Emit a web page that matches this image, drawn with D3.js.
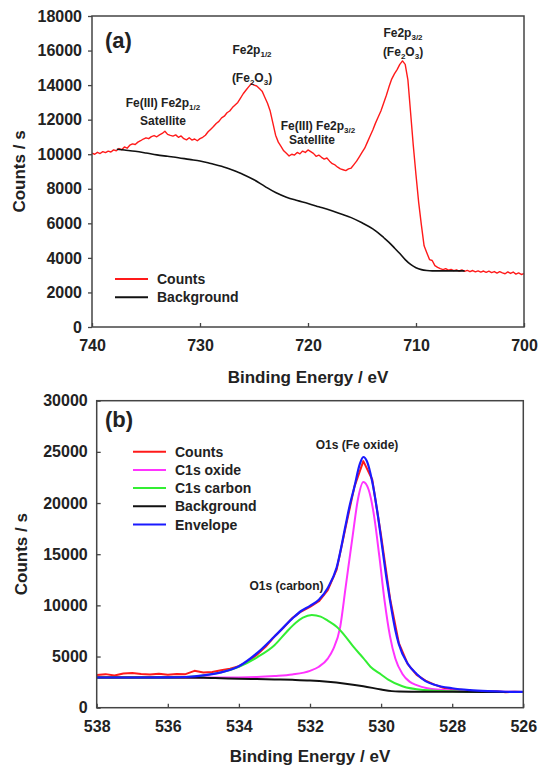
<!DOCTYPE html>
<html><head><meta charset="utf-8">
<script src="https://cdn.jsdelivr.net/npm/d3@7"></script>
<style>
body{margin:0;background:#fff;}
svg{display:block;font-family:"Liberation Sans",Arial,sans-serif;}
</style></head>
<body>
<svg id="c" width="539" height="765"></svg>
<script>
// ---------- Panel (a) data : Fe 2p ----------
const aXTicks = [740, 730, 720, 710, 700];
const aYTicks = [0, 2000, 4000, 6000, 8000, 10000, 12000, 14000, 16000, 18000];
const aCounts = [
[740,10060],[739.75,10000],[739.5,10110],[739.25,10040],[739,10150],[738.75,10090],[738.5,10180],[738.25,10130],
[738,10250],[737.75,10200],[737.5,10330],[737.25,10260],[737,10420],[736.75,10350],[736.5,10520],[736.25,10600],
[736,10560],[735.75,10700],[735.5,10780],[735.25,10880],[735,10950],[734.75,10900],[734.5,11020],[734.25,11080],
[734,11010],[733.75,11120],[733.5,11200],[733.25,11330],[733,11150],[732.75,11090],[732.5,11050],[732.25,11120],
[732,10980],[731.75,11060],[731.5,10900],[731.25,10830],[731,10950],[730.75,10820],[730.5,10880],[730.25,10780],
[730,10900],[729.75,10980],[729.5,11100],[729.25,11300],[729,11450],[728.75,11600],[728.5,11780],[728.25,11900],
[728,12100],[727.75,12200],[727.5,12400],[727.25,12500],[727,12700],[726.75,12850],[726.5,13000],[726.25,13250],
[726,13500],[725.75,13700],[725.5,13900],[725.25,14080],[725,14000],[724.75,13950],[724.5,13800],[724.25,13650],
[724,13300],[723.75,12950],[723.5,12500],[723.25,11800],[723,11100],[722.75,10700],[722.5,10450],[722.25,10200],
[722,10050],[721.75,9900],[721.5,10000],[721.25,9950],[721,10100],[720.75,10020],[720.5,10180],[720.25,10100],
[720,10250],[719.75,10150],[719.5,10050],[719.25,9880],[719,9950],[718.75,9820],[718.5,9720],[718.25,9780],
[718,9600],[717.75,9450],[717.5,9380],[717.25,9250],[717,9150],[716.75,9100],[716.5,9050],[716.25,9150],
[716,9200],[715.75,9400],[715.5,9600],[715.25,9850],[715,10100],[714.75,10350],[714.5,10700],[714.25,11050],
[714,11400],[713.75,11800],[713.5,12150],[713.25,12500],[713,12950],[712.75,13400],[712.5,13900],[712.25,14350],
[712,14650],[711.75,14900],[711.5,15200],[711.25,15400],[711,15200],[710.75,14300],[710.5,12400],[710.25,10500],
[710,8800],[709.75,7200],[709.5,5900],[709.25,4700],[709,4300],[708.75,3900],[708.5,3850],[708.25,3550],
[708,3450],[707.75,3380],[707.5,3320],[707.25,3380],[707,3290],[706.75,3330],[706.5,3260],[706.25,3310],
[706,3240],[705.75,3300],[705.5,3220],[705.25,3280],[705,3200],[704.75,3270],[704.5,3190],[704.25,3250],
[704,3180],[703.75,3240],[703.5,3160],[703.25,3230],[703,3150],[702.75,3210],[702.5,3120],[702.25,3200],
[702,3130],[701.75,3080],[701.5,3190],[701.25,3100],[701,3180],[700.75,3060],[700.5,3130],[700.25,3040],[700,3090]
];
const aBackground = [
[737.7,10290],[737,10240],[736,10170],[735,10070],[734,9960],[733,9880],[732,9800],[731,9700],[730,9610],
[729,9460],[728,9300],[727,9080],[726,8830],[725,8520],[724,8140],[723,7780],[722,7510],[721,7320],[720,7150],
[719,6960],[718,6770],[717,6550],[716,6330],[715,6030],[714,5680],[713.5,5450],[713,5180],[712.5,4900],[712,4580],
[711.5,4250],[711,3900],[710.5,3620],[710,3430],[709.5,3320],[709,3270],[708.5,3250],[707,3250],[705.5,3250]
];

// ---------- Panel (b) data : O 1s ----------
const bXTicks = [538, 536, 534, 532, 530, 528, 526];
const bYTicks = [0, 5000, 10000, 15000, 20000, 25000, 30000];
const bCounts = [
[538,3200],[537.75,3280],[537.5,3150],[537.25,3350],[537,3380],[536.75,3300],[536.5,3250],[536.25,3320],
[536,3230],[535.75,3300],[535.5,3280],[535.25,3600],[535,3450],[534.75,3480],[534.5,3650],[534.25,3820],
[534,4050],[533.75,4500],[533.5,5150],[533.25,5950],[533,6950],[532.75,7800],[532.5,8750],[532.25,9400],
[532,9850],[531.75,10400],[531.5,11500],[531.25,13500],[531,17600],[530.75,21600],[530.5,24100],[530.25,22300],
[530,16800],[529.75,10700],[529.5,6300],[529.25,4250],[529,3200],[528.75,2650],[528.5,2250],[528.25,1950],
[528,1800],[527.75,1750],[527.5,1650],[527.25,1620],[527,1560],[526.75,1600],[526.5,1520],[526.25,1550],[526,1540]
];
const bOxide = [
[538,2950],[535,2950],[534,2960],[533.5,3000],[533,3100],[532.5,3250],[532,3600],[531.75,4000],[531.5,4800],
[531.35,5700],[531.15,7900],[531,11700],[530.8,16800],[530.65,20400],[530.5,22050],[530.35,21300],[530.2,18800],
[530.05,14800],[529.9,10400],[529.75,7000],[529.6,4800],[529.4,3300],[529.2,2550],[529,2200],[528.7,1900],
[528,1670],[527,1580],[526,1540]
];
const bCarbon = [
[538,2950],[536,2960],[535.5,3000],[535,3150],[534.5,3450],[534,4000],[533.5,4900],[533,6100],[532.66,7400],
[532.4,8300],[532.2,8800],[531.95,9060],[531.7,8900],[531.5,8500],[531.25,7900],[531,6950],[530.78,5960],
[530.5,4850],[530.3,4000],[530,3250],[529.8,2750],[529.4,2100],[528.8,1730],[528,1600],[527,1550],[526,1540]
];
const bBackground = [
[538,2950],[536,2940],[535,2920],[534.5,2880],[534,2840],[533.5,2800],[533,2760],[532.5,2720],[532,2660],
[531.5,2540],[531,2350],[530.5,2100],[530,1780],[529.7,1620],[529.5,1580],[529,1560],[528,1550],[527,1540],[526,1530]
];
const bEnvelope = [
[538,2950],[537,2950],[536,2960],[535.5,3000],[535,3150],[534.5,3450],[534,4050],[533.5,5300],[533,6950],
[532.5,8700],[532.25,9450],[532,9950],[531.75,10550],[531.5,11700],[531.25,13700],[531,17800],[530.9,19500],
[530.75,21600],[530.6,23800],[530.5,24500],[530.4,24100],[530.25,22100],[530.1,19000],[530,16500],[529.85,12700],
[529.75,10500],[529.6,7600],[529.5,6200],[529.25,4300],[529,3300],[528.75,2600],[528.5,2250],[528,1900],
[527.5,1720],[527,1620],[526.5,1560],[526,1540]
];

const legendA = [{name:"Counts", color:"#ff1a1a"}, {name:"Background", color:"#111"}];
const legendB = [
  {name:"Counts", color:"#ff1a1a"}, {name:"C1s oxide", color:"#ff33ff"},
  {name:"C1s carbon", color:"#33ee33"}, {name:"Background", color:"#111"},
  {name:"Envelope", color:"#1a1aff"}
];

const svg = d3.select("#c");
const FONT = '"Liberation Sans", Arial, sans-serif';
const TXT = "#222";

function frame(g, x0, y0, x1, y1) {
  g.append("rect").attr("x", x0).attr("y", y0).attr("width", x1 - x0).attr("height", y1 - y0)
    .attr("fill", "none").attr("stroke", "#444").attr("stroke-width", 1.5);
}
function styleAxis(g) {
  g.select(".domain").remove();
  g.selectAll(".tick line").attr("stroke", "#444").attr("stroke-width", 1.3);
  g.selectAll(".tick text").attr("fill", TXT).attr("font-family", FONT)
    .attr("font-size", 16).attr("font-weight", "bold");
}
function sub(t, base, s, rest) {
  t.append("tspan").text(base);
  t.append("tspan").text(s).attr("font-size", 8).attr("dy", 3);
  if (rest !== undefined) t.append("tspan").text(rest).attr("dy", -3);
}
function label(x, y, size) {
  return svg.append("text").attr("x", x).attr("y", y).attr("text-anchor", "middle")
    .attr("font-family", FONT).attr("font-weight", "bold").attr("font-size", size).attr("fill", TXT);
}

// ================= Panel (a) =================
{
  const L = 92, R = 524, T = 16, B = 327;
  const x = d3.scaleLinear().domain([740, 700]).range([L, R]);
  const y = d3.scaleLinear().domain([0, 18000]).range([B, T]);
  const line = d3.line().x(d => x(d[0])).y(d => y(d[1]));

  svg.append("path").datum(aCounts).attr("d", line).attr("fill", "none")
    .attr("stroke", "#ff1a1a").attr("stroke-width", 1.4).attr("stroke-linejoin", "round");
  svg.append("path").datum(aBackground).attr("d", line.curve(d3.curveMonotoneX)).attr("fill", "none")
    .attr("stroke", "#111").attr("stroke-width", 1.6);

  frame(svg, L, T, R, B);
  svg.append("g").attr("transform", `translate(${L},0)`)
    .call(d3.axisLeft(y).tickValues(aYTicks).tickSize(4).tickPadding(6).tickFormat(d3.format("d")))
    .call(styleAxis);
  svg.append("g").attr("transform", `translate(0,${B})`)
    .call(d3.axisBottom(x).tickValues(aXTicks).tickSize(-4).tickPadding(13).tickFormat(d3.format("d")))
    .call(styleAxis);

  label((L + R) / 2, 383, 17).text("Binding Energy / eV");
  svg.append("text").attr("transform", `translate(25,${(T + B) / 2}) rotate(-90)`)
    .attr("text-anchor", "middle").attr("font-family", FONT).attr("font-weight", "bold")
    .attr("font-size", 17).attr("fill", TXT).text("Counts / s");

  svg.append("text").attr("x", 105).attr("y", 48).attr("font-family", FONT).attr("font-weight", "bold")
    .attr("font-size", 22).attr("fill", TXT).text("(a)");

  // annotations
  sub(label(252, 54, 12), "Fe2p", "1/2");
  sub(label(252, 82, 12), "(Fe", "2", "O"); 
  svg.selectAll("text").filter(function(){return false;});
  sub(label(163, 107, 12), "Fe(III) Fe2p", "1/2");
  label(163, 125, 12).text("Satellite");
  sub(label(318, 130, 12), "Fe(III) Fe2p", "3/2");
  label(312, 144, 12).text("Satellite");
  sub(label(403, 37, 12), "Fe2p", "3/2");

  // legend
  legendA.forEach((d, i) => {
    const yy = 279 + i * 18.3;
    svg.append("line").attr("x1", 115).attr("x2", 148).attr("y1", yy).attr("y2", yy)
      .attr("stroke", d.color).attr("stroke-width", 2);
    svg.append("text").attr("x", 157).attr("y", yy).attr("dy", "0.36em").attr("font-family", FONT)
      .attr("font-weight", "bold").attr("font-size", 14).attr("fill", TXT).text(d.name);
  });
}

// fix (Fe2O3) labels fully
function fe2o3(x, yb) {
  const t = label(x, yb, 12);
  t.append("tspan").text("(Fe");
  t.append("tspan").text("2").attr("font-size", 8).attr("dy", 3);
  t.append("tspan").text("O").attr("dy", -3);
  t.append("tspan").text("3").attr("font-size", 8).attr("dy", 3);
  t.append("tspan").text(")").attr("dy", -3);
}
// remove the partial one drawn above
svg.selectAll("text").filter(function(){ return this.textContent === "(Fe2O"; }).remove();
fe2o3(252, 82);
fe2o3(403, 56);

// ================= Panel (b) =================
{
  const L = 96.7, R = 523.3, T = 400.7, B = 707.7;
  const x = d3.scaleLinear().domain([538, 526]).range([L, R]);
  const y = d3.scaleLinear().domain([0, 30000]).range([B, T]);
  const line = d3.line().x(d => x(d[0])).y(d => y(d[1]));
  const smooth = d3.line().x(d => x(d[0])).y(d => y(d[1])).curve(d3.curveMonotoneX);

  svg.append("path").datum(bCounts).attr("d", line).attr("fill", "none")
    .attr("stroke", "#ff1a1a").attr("stroke-width", 2).attr("stroke-linejoin", "round");
  svg.append("path").datum(bOxide).attr("d", smooth).attr("fill", "none")
    .attr("stroke", "#ff33ff").attr("stroke-width", 2);
  svg.append("path").datum(bCarbon).attr("d", smooth).attr("fill", "none")
    .attr("stroke", "#33ee33").attr("stroke-width", 2);
  svg.append("path").datum(bBackground).attr("d", smooth).attr("fill", "none")
    .attr("stroke", "#111").attr("stroke-width", 2);
  svg.append("path").datum(bEnvelope).attr("d", smooth).attr("fill", "none")
    .attr("stroke", "#1a1aff").attr("stroke-width", 2.2);

  frame(svg, L, T, R, B);
  svg.append("g").attr("transform", `translate(${L},0)`)
    .call(d3.axisLeft(y).tickValues(bYTicks).tickSize(-4).tickPadding(9).tickFormat(d3.format("d")))
    .call(styleAxis);
  svg.append("g").attr("transform", `translate(0,${B})`)
    .call(d3.axisBottom(x).tickValues(bXTicks).tickSize(-4).tickPadding(13).tickFormat(d3.format("d")))
    .call(styleAxis);

  label((L + R) / 2, 762, 17).text("Binding Energy / eV");
  svg.append("text").attr("transform", `translate(27,${(T + B) / 2}) rotate(-90)`)
    .attr("text-anchor", "middle").attr("font-family", FONT).attr("font-weight", "bold")
    .attr("font-size", 17).attr("fill", TXT).text("Counts / s");

  svg.append("text").attr("x", 105).attr("y", 427).attr("font-family", FONT).attr("font-weight", "bold")
    .attr("font-size", 22).attr("fill", TXT).text("(b)");

  label(357, 449, 12).text("O1s (Fe oxide)");
  label(286.5, 590, 12).text("O1s (carbon)");

  legendB.forEach((d, i) => {
    const yy = 451.7 + i * 18.2;
    svg.append("line").attr("x1", 133).attr("x2", 166).attr("y1", yy).attr("y2", yy)
      .attr("stroke", d.color).attr("stroke-width", 2);
    svg.append("text").attr("x", 175).attr("y", yy).attr("dy", "0.36em").attr("font-family", FONT)
      .attr("font-weight", "bold").attr("font-size", 14).attr("fill", TXT).text(d.name);
  });
}
</script>
</body></html>
